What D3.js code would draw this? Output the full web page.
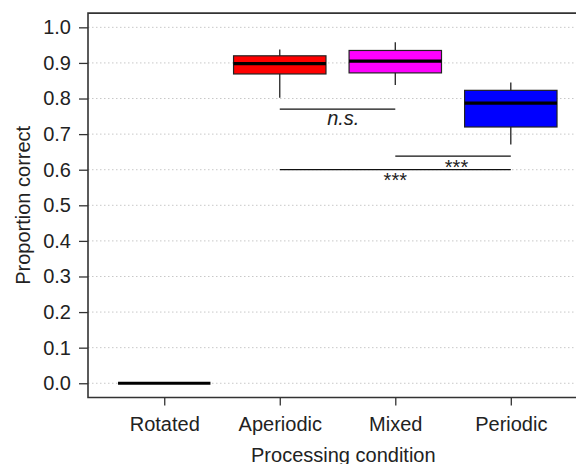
<!DOCTYPE html>
<html>
<head>
<meta charset="utf-8">
<script src="https://cdn.jsdelivr.net/npm/d3@7"></script>
<style>
  html, body { margin: 0; padding: 0; background: #fff; }
  svg { display: block; font-family: "Liberation Sans", Arial, Helvetica, sans-serif; }
  .axis text { font-size: 20px; fill: #222; }
  .axis line { stroke: #333; stroke-width: 1.3; }
  .axis path { display: none; }
</style>
</head>
<body>
<svg id="chart" width="576" height="464"></svg>
<script>
// categories and box summaries
const conditions = ['Rotated', 'Aperiodic', 'Mixed', 'Periodic'];
const whiskerLow = [0, 0.802, 0.838, 0.671];
const quartile1 = [0, 0.869, 0.872, 0.720];
const medians = [0, 0.898, 0.905, 0.787];
const quartile3 = [0, 0.920, 0.935, 0.823];
const whiskerHigh = [0, 0.938, 0.958, 0.845];
const boxColors = ['#000000', '#ff0000', '#ff00ff', '#0000ff'];

const yTicks = [0, 0.1, 0.2, 0.3, 0.4, 0.5, 0.6, 0.7, 0.8, 0.9, 1.0];

// significance brackets (x in condition positions, y in proportion)
const compareFrom = [2, 3, 2];
const compareTo = [3, 4, 4];
const compareLevel = [0.77, 0.638, 0.60];
const compareLabel = ['n.s.', '***', '***'];
const compareLabelAt = [2.55, 3.53, 3.0];

const svg = d3.select('#chart');
const plotLeft = 88, plotRight = 598.6, plotTop = 13.1, plotBottom = 397.5;

const x = d3.scaleLinear().domain([0.34, 4.76]).range([plotLeft, plotRight]);
const y = d3.scaleLinear().domain([-0.04, 1.04]).range([plotBottom, plotTop]);
const boxWidth = x(1.8) - x(1);

// grid
svg.append('g').selectAll('line').data(yTicks).enter().append('line')
  .attr('x1', plotLeft).attr('x2', plotRight)
  .attr('y1', d => y(d)).attr('y2', d => y(d))
  .attr('stroke', '#c8c8c8')
  .attr('stroke-width', 1)
  .attr('stroke-dasharray', '1.5,2.5');

// axes
svg.append('g').attr('class', 'axis')
  .attr('transform', `translate(${plotLeft},0)`)
  .call(d3.axisLeft(y).tickValues(yTicks).tickFormat(d3.format('.1f')).tickSize(9).tickPadding(8));

svg.append('g').attr('class', 'axis')
  .attr('transform', `translate(0,${plotBottom})`)
  .call(d3.axisBottom(x).tickValues([1, 2, 3, 4]).tickFormat((d, i) => conditions[i]).tickSize(8).tickPadding(11));

// frame (right side falls outside the picture)
svg.append('path')
  .attr('d', `M${plotRight},${plotTop}H${plotLeft}V${plotBottom}H${plotRight}`)
  .attr('fill', 'none')
  .attr('stroke', '#333')
  .attr('stroke-width', 1.6);

// boxes
const boxes = conditions.map((name, i) => ({
  pos: i + 1,
  lo: whiskerLow[i], q1: quartile1[i], med: medians[i], q3: quartile3[i], hi: whiskerHigh[i],
  color: boxColors[i]
}));

const g = svg.append('g');
const box = g.selectAll('.box').data(boxes).enter().append('g').attr('class', 'box');

box.filter(d => d.hi > d.lo).append('line')
  .attr('x1', d => x(d.pos)).attr('x2', d => x(d.pos))
  .attr('y1', d => y(d.hi)).attr('y2', d => y(d.lo))
  .attr('stroke', '#222').attr('stroke-width', 1.3);

box.filter(d => d.q3 > d.q1).append('rect')
  .attr('x', d => x(d.pos) - boxWidth / 2)
  .attr('y', d => y(d.q3))
  .attr('width', boxWidth)
  .attr('height', d => y(d.q1) - y(d.q3))
  .attr('fill', d => d.color)
  .attr('stroke', '#222')
  .attr('stroke-width', 1.2);

box.append('line')
  .attr('x1', d => x(d.pos) - boxWidth / 2).attr('x2', d => x(d.pos) + boxWidth / 2)
  .attr('y1', d => y(d.med)).attr('y2', d => y(d.med))
  .attr('stroke', '#000').attr('stroke-width', 3.2);

// significance lines
const comps = compareLabel.map((label, i) => ({
  from: compareFrom[i], to: compareTo[i], level: compareLevel[i], label, at: compareLabelAt[i]
}));

const sig = svg.append('g').selectAll('g').data(comps).enter().append('g');
sig.append('line')
  .attr('x1', d => x(d.from)).attr('x2', d => x(d.to))
  .attr('y1', d => y(d.level)).attr('y2', d => y(d.level))
  .attr('stroke', '#111').attr('stroke-width', 1.2);
sig.append('text')
  .attr('x', d => x(d.at))
  .attr('y', d => y(d.level) + (d.label === 'n.s.' ? 15.3 : 17.5))
  .attr('text-anchor', 'middle')
  .attr('font-size', 20)
  .attr('font-style', d => d.label === 'n.s.' ? 'italic' : 'normal')
  .attr('fill', '#222')
  .text(d => d.label);

// axis titles
svg.append('text')
  .attr('x', (plotLeft + plotRight) / 2).attr('y', 461.5)
  .attr('text-anchor', 'middle').attr('font-size', 20).attr('fill', '#222')
  .text('Processing condition');

svg.append('text')
  .attr('transform', `translate(29.5,${(plotTop + plotBottom) / 2}) rotate(-90)`)
  .attr('text-anchor', 'middle').attr('font-size', 20).attr('fill', '#222')
  .text('Proportion correct');
</script>
</body>
</html>
